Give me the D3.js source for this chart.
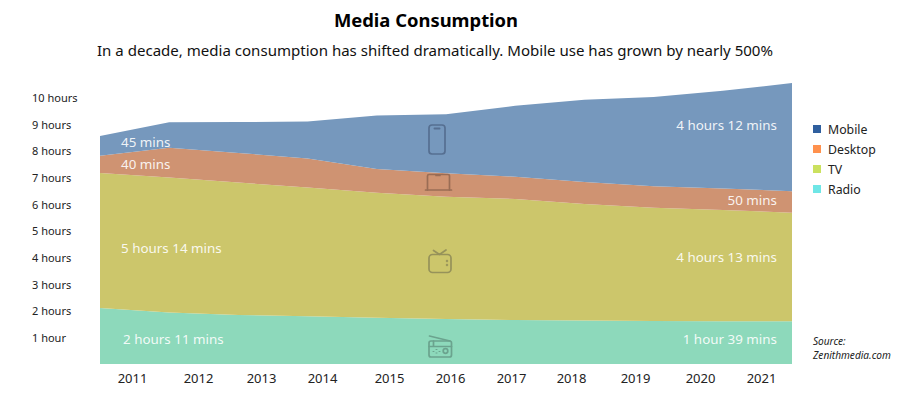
<!DOCTYPE html>
<html>
<head>
<meta charset="utf-8">
<script src="https://cdn.jsdelivr.net/npm/d3@7"></script>
<style>
	html, body { margin: 0; padding: 0; background: #fff; }
	svg { display: block; }
	text { font-family: "Noto Sans", sans-serif; }
	.domain { display: none; }
	.icon { fill: none; stroke-width: 1.7; stroke-linecap: round; stroke-linejoin: round; }
</style>
</head>
<body>
<div id="chartArea"></div>
<script>
// chart data, hours per day
var years = ['2011', '2012', '2013', '2014', '2015', '2016', '2017', '2018', '2019', '2020', '2021'];
var radio = [2.10, 1.93, 1.84, 1.79, 1.74, 1.69, 1.65, 1.63, 1.61, 1.60, 1.60];
var tv = [5.07, 5.07, 4.97, 4.83, 4.69, 4.59, 4.54, 4.37, 4.25, 4.18, 4.08];
var desktop = [0.64, 1.11, 1.11, 1.09, 0.89, 0.88, 0.84, 0.83, 0.81, 0.81, 0.80];
var mobile = [0.75, 0.96, 1.16, 1.39, 2.00, 2.21, 2.66, 3.09, 3.35, 3.66, 4.06];

var hourTicks = [1, 2, 3, 4, 5, 6, 7, 8, 9, 10];
var hourLabels = ['1 hour', '2 hours', '3 hours', '4 hours', '5 hours', '6 hours', '7 hours', '8 hours', '9 hours', '10 hours'];

var seriesNames = ['Radio', 'TV', 'Desktop', 'Mobile'];
var seriesValues = [radio, tv, desktop, mobile];
var areaColors = ['#8DD9BB', '#CCC66B', '#CF9372', '#7698BD'];

var legendNames = ['Mobile', 'Desktop', 'TV', 'Radio'];
var legendColors = ['#2F5F9E', '#FF914D', '#CBE15F', '#6FE6E6'];

var startLabels = ['2 hours 11 mins', '5 hours 14 mins', '40 mins', '45 mins'];
var endLabels = ['1 hour 39 mins', '4 hours 13 mins', '50 mins', '4 hours 12 mins'];

var svg = d3.select('#chartArea').append('svg')
	.attr('width', 900)
	.attr('height', 400);

var x = d3.scalePoint().domain(years).range([100, 792]);
// the year labels are hand placed in the original, not on the data points
var xLabels = d3.scaleOrdinal().domain(years).range([132, 198, 261, 322, 389, 450, 511, 571, 635, 700, 761]);
var y = d3.scaleLinear().domain([0, 10]).range([364, 97.5]);

// stack the series on top of each other
var rows = years.map(function (year, i) {
	var row = { year: year };
	seriesNames.forEach(function (name, s) {
		row[name] = seriesValues[s][i];
	});
	return row;
});
var stacked = d3.stack().keys(seriesNames)(rows);

var area = d3.area()
	.x(function (d) { return x(d.data.year); })
	.y0(function (d) { return y(d[0]); })
	.y1(function (d) { return y(d[1]); });

svg.selectAll('path.layer')
	.data(stacked)
	.enter()
	.append('path')
	.attr('class', 'layer')
	.attr('d', area)
	.attr('fill', function (d, i) { return areaColors[i]; });

// axes
var xAxis = svg.append('g')
	.attr('transform', 'translate(0,378)')
	.call(d3.axisBottom(xLabels).tickSize(0).tickPadding(0));
xAxis.selectAll('text')
	.attr('dy', '0.35em')
	.attr('font-size', 13)
	.attr('fill', '#222');

var yAxis = svg.append('g')
	.attr('transform', 'translate(32,0.5)')
	.call(d3.axisLeft(y).tickValues(hourTicks).tickSize(0).tickFormat(function (d, i) {
		return hourLabels[i];
	}));
yAxis.selectAll('text')
	.attr('x', 0)
	.attr('text-anchor', 'start')
	.attr('font-size', 11)
	.attr('fill', '#222');

// titles
svg.append('text')
	.attr('x', 426).attr('y', 27)
	.attr('text-anchor', 'middle')
	.attr('font-size', 18.4)
	.attr('font-weight', 700)
	.attr('fill', '#000')
	.text('Media Consumption');

svg.append('text')
	.attr('x', 435).attr('y', 56)
	.attr('text-anchor', 'middle')
	.attr('font-size', 15.05)
	.attr('fill', '#111')
	.text('In a decade, media consumption has shifted dramatically. Mobile use has grown by nearly 500%');

// white labels inside the areas
var startY = [339, 248, 164, 142];
var startX = [123, 121, 121, 121];
var endY = [339, 257, 200, 125];

svg.selectAll('text.start')
	.data(startLabels)
	.enter()
	.append('text')
	.attr('class', 'start')
	.attr('x', function (d, i) { return startX[i]; })
	.attr('y', function (d, i) { return startY[i]; })
	.attr('dy', '0.35em')
	.attr('font-size', 13.4)
	.attr('fill', '#fff')
	.attr('fill-opacity', 0.9)
	.text(function (d) { return d; });

svg.selectAll('text.end')
	.data(endLabels)
	.enter()
	.append('text')
	.attr('class', 'end')
	.attr('x', 777)
	.attr('y', function (d, i) { return endY[i]; })
	.attr('dy', '0.35em')
	.attr('text-anchor', 'end')
	.attr('font-size', 13.4)
	.attr('fill', '#fff')
	.attr('fill-opacity', 0.9)
	.text(function (d) { return d; });

// legend
var legend = svg.selectAll('g.legend')
	.data(legendNames)
	.enter()
	.append('g')
	.attr('class', 'legend')
	.attr('transform', function (d, i) { return 'translate(813,' + (129.5 + i * 20) + ')'; });

legend.append('rect')
	.attr('y', -4.5)
	.attr('width', 8)
	.attr('height', 8)
	.attr('fill', function (d, i) { return legendColors[i]; });

legend.append('text')
	.attr('x', 15)
	.attr('dy', '0.35em')
	.attr('font-size', 12.3)
	.attr('fill', '#222')
	.text(function (d) { return d; });

// source note
svg.selectAll('text.source')
	.data(['Source:', 'Zenithmedia.com'])
	.enter()
	.append('text')
	.attr('class', 'source')
	.attr('x', 813)
	.attr('y', function (d, i) { return 345 + i * 14; })
	.attr('font-size', 10.1)
	.attr('font-style', 'italic')
	.attr('fill', '#222')
	.text(function (d) { return d; });

// device icons
var phone = svg.append('g').attr('class', 'icon').attr('stroke', '#566F91');
phone.append('rect').attr('x', 429).attr('y', 125).attr('width', 16).attr('height', 29).attr('rx', 3);
phone.append('line').attr('x1', 434.5).attr('x2', 439.5).attr('y1', 128.5).attr('y2', 128.5).attr('stroke-width', 2);

var laptop = svg.append('g').attr('class', 'icon').attr('stroke', '#9A6D55');
laptop.append('path').attr('d', 'M427.5 190V176a1.5 1.5 0 0 1 1.5 -1.5H448a1.5 1.5 0 0 1 1.5 1.5V190');
laptop.append('line').attr('x1', 425.5).attr('x2', 451.5).attr('y1', 190).attr('y2', 190);
laptop.append('line').attr('x1', 436).attr('x2', 440).attr('y1', 175.5).attr('y2', 175.5);

var tvIcon = svg.append('g').attr('class', 'icon').attr('stroke', '#96925A');
tvIcon.append('rect').attr('x', 429).attr('y', 254.5).attr('width', 22).attr('height', 18).attr('rx', 3.5);
tvIcon.append('path').attr('d', 'M433.5 250.5L439.5 254.5L446 250');
tvIcon.append('circle').attr('cx', 447).attr('cy', 261).attr('r', 0.4);
tvIcon.append('circle').attr('cx', 447).attr('cy', 265).attr('r', 0.4);

var radioIcon = svg.append('g').attr('class', 'icon').attr('stroke', '#6BA38E');
radioIcon.append('rect').attr('x', 429).attr('y', 341).attr('width', 22.5).attr('height', 16).attr('rx', 2);
radioIcon.append('path').attr('d', 'M429.5 336L450 341M429 346.5H451.5M433.5 341V346.5');
radioIcon.append('circle').attr('cx', 445.5).attr('cy', 351).attr('r', 2.3);
radioIcon.append('path').attr('d', 'M433 351.5h1M436 349.5h1M436 353h1M439 351.5h1').attr('stroke-width', 1);
</script>
</body>
</html>
